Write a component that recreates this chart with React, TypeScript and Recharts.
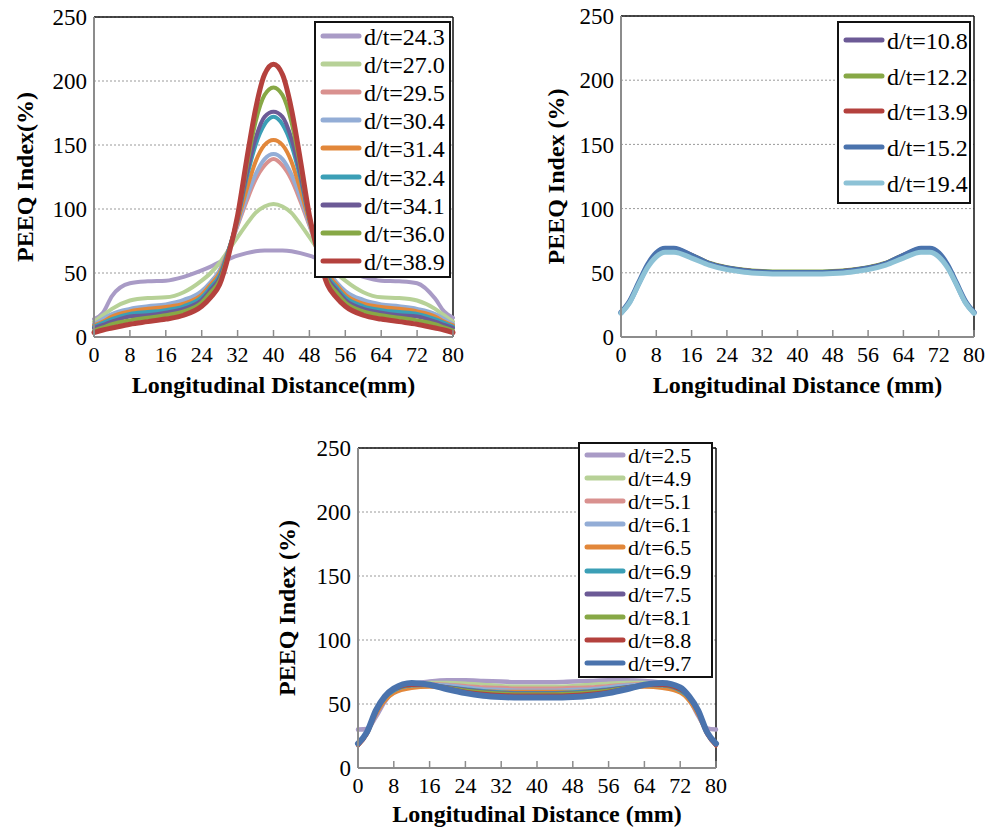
import React from 'react';
import { LineChart, Line, XAxis, YAxis, CartesianGrid, Legend, ReferenceLine } from 'recharts';

const SERIF = '"Liberation Serif", "Times New Roman", serif';

const xTicks = [0, 8, 16, 24, 32, 40, 48, 56, 64, 72, 80];
const yTicks = [0, 50, 100, 150, 200, 250];

// panel (a) – larger defects, sharp peak in the middle
const xA = [0, 2, 4, 8, 12, 16, 20, 24, 26, 28, 30, 32, 34, 36, 38, 40, 42, 44, 46, 48, 50, 52, 54, 56, 60, 64, 68, 72, 76, 78, 80];
const a243 = [14, 19, 32, 42, 43.5, 44, 47, 52, 55, 58.5, 61, 63.5, 65.5, 67, 67.5, 67.5, 67.5, 67, 65.5, 63.5, 61, 58.5, 55, 52, 47, 44, 43.5, 42, 30, 20, 15];
const a270 = [12, 17, 22, 28.5, 30.5, 31, 35, 44, 50, 58, 68, 78, 88, 97, 102, 104, 102, 97, 88, 78, 68, 58, 50, 44, 35, 31, 30.5, 28.5, 22, 17, 12];
const a295 = [10, 13, 17, 21, 23, 24.5, 28, 35, 42, 52, 68, 87, 106, 123, 134, 139, 134, 123, 106, 87, 68, 52, 42, 35, 28, 24.5, 23, 21, 17, 13, 10];
const a304 = [10, 14, 18, 22, 24, 25.5, 29, 36, 43, 52, 68, 88, 109, 127, 139, 143, 139, 127, 109, 88, 68, 52, 43, 36, 29, 25.5, 24, 22, 18, 14, 10];
const a314 = [9, 12, 16, 20, 22, 23.5, 26, 33, 41, 50, 68, 90, 115, 137, 150, 154, 150, 137, 115, 90, 68, 50, 41, 33, 26, 23.5, 22, 20, 16, 12, 9];
const a324 = [8, 11, 14, 18, 19.5, 21, 24, 31, 39, 48, 68, 92, 124, 150, 166, 172, 166, 150, 124, 92, 68, 48, 39, 31, 24, 21, 19.5, 18, 14, 11, 8];
const a341 = [7, 9.5, 12, 16, 17, 19, 22, 29, 37, 46, 67, 93, 127, 155, 172, 176, 172, 155, 127, 93, 67, 46, 37, 29, 22, 19, 17, 16, 12, 9.5, 7];
const a360 = [5, 7.5, 10, 13, 15, 17, 20, 27, 35, 44, 66, 94, 133, 168, 189, 195, 189, 168, 133, 94, 66, 44, 35, 27, 20, 17, 15, 13, 10, 7.5, 5];
const a389 = [3.5, 5.5, 7, 10, 12, 14, 17, 24, 31, 41, 64, 95, 138, 178, 205, 213, 205, 178, 138, 95, 64, 41, 31, 24, 17, 14, 12, 10, 7, 5.5, 3.5];

// panel (b)
const xB = [0, 2, 4, 6, 8, 10, 12, 16, 20, 24, 28, 32, 36, 40, 44, 48, 52, 56, 60, 64, 68, 70, 72, 74, 76, 78, 80];
const b108 = [19, 28, 42, 56, 65, 68.5, 68.5, 64, 58, 54.5, 52.5, 51.5, 51, 51, 51, 51.5, 52.5, 54.5, 58, 64, 68.5, 68.5, 65, 56, 42, 28, 19];
const b122 = [19, 28, 42, 56, 64.5, 68, 68, 64.5, 58.5, 55, 53, 52, 51.5, 51.5, 51.5, 52, 53, 55, 58.5, 64.5, 68, 68, 64.5, 56, 42, 28, 19];
const b139 = [19, 28, 42, 56, 65.5, 69.5, 69.5, 64.5, 58, 54.5, 52.5, 51.5, 51, 51, 51, 51.5, 52.5, 54.5, 58, 64.5, 69.5, 69.5, 65.5, 56, 42, 28, 19];
const b152 = [19, 28, 42, 56, 65.5, 69, 69, 63.5, 57, 53.5, 51.5, 50.5, 50, 50, 50, 50.5, 51.5, 53.5, 57, 63.5, 69, 69, 65.5, 56, 42, 28, 19];
const b194 = [18.5, 27, 41, 54, 62.5, 66, 66, 61.5, 56, 52.5, 50.5, 49.5, 49, 49, 49, 49.5, 50.5, 52.5, 56, 61.5, 66, 66, 62.5, 54, 41, 27, 18.5];

// panel (c)
const xC = [0, 2, 4, 6, 8, 12, 16, 20, 24, 28, 32, 36, 40, 44, 48, 52, 56, 60, 64, 68, 72, 74, 76, 78, 80];
const c25 = [30, 30.5, 40, 52, 60, 65.5, 67.5, 68.5, 68.5, 68, 67.5, 67, 67, 67, 67.5, 68, 68.5, 68.5, 68, 66.5, 61, 54, 41, 31, 30];
const c49 = [18, 27, 43, 54, 60, 65, 67, 67, 66.5, 65.5, 64.5, 64, 64, 64, 64.5, 65.5, 66.5, 67, 67, 65.5, 61, 55, 43, 27, 18];
const c51 = [18, 27, 43, 54, 60, 64.5, 66, 65.5, 64.5, 63.5, 63, 62.5, 62.5, 62.5, 63, 63.5, 64.5, 65.5, 66, 64.5, 60.5, 54, 43, 27, 18];
const c61 = [18, 27, 43, 54, 60, 64, 65.5, 65, 63.5, 62, 61.5, 61, 61, 61, 61.5, 62, 63.5, 65, 65.5, 64, 60, 54, 43, 27, 18];
const c65 = [17, 26, 41, 52, 58, 62, 63, 62.5, 61.5, 60.5, 60, 60, 60, 60, 60, 60.5, 61.5, 62.5, 63, 62, 58.5, 52, 41, 26, 17];
const c69 = [18, 27, 43, 54, 60, 64, 64.5, 63.5, 62, 60.5, 59.5, 59, 59, 59, 59.5, 60.5, 62, 63.5, 64.5, 64, 60, 54, 43, 27, 18];
const c75 = [18, 27, 43, 55, 61, 64.5, 65, 63.5, 61.5, 60, 59, 58.5, 58.5, 58.5, 59, 60, 61.5, 63.5, 65, 64.5, 61, 55, 43, 27, 18];
const c81 = [18, 27, 43, 55, 61, 64.5, 65, 63, 61, 59.5, 58.5, 58, 58, 58, 58.5, 59.5, 61, 63, 65, 64.5, 61, 55, 43, 27, 18];
const c88 = [17, 26, 43, 55, 61, 64.5, 64.5, 62.5, 60, 58.5, 57.5, 57, 57, 57, 57.5, 58.5, 60, 62.5, 64.5, 64.5, 61, 55, 43, 26, 17];
const c97 = [19, 28, 45, 56, 62, 66.5, 65, 61.5, 58.5, 56.5, 55.5, 55, 55, 55, 55.5, 56.5, 58.5, 61.5, 65, 66.5, 63, 56, 45, 28, 19];

const C = {
  lilac: '#A99BC6',
  lime: '#B7D197',
  rose: '#D9918F',
  steel: '#93ADD6',
  orange: '#E2873A',
  teal: '#3B9FB6',
  plum: '#6C5A96',
  olive: '#87A846',
  brick: '#B4413D',
  blue: '#4A73AD',
  sky: '#8DC2D6',
};

type Series = { key: string; name: string; color: string; width: number; values: number[] };

const seriesA: Series[] = [
  { key: 'a243', name: 'd/t=24.3', color: C.lilac, width: 4, values: a243 },
  { key: 'a270', name: 'd/t=27.0', color: C.lime, width: 4, values: a270 },
  { key: 'a295', name: 'd/t=29.5', color: C.rose, width: 4, values: a295 },
  { key: 'a304', name: 'd/t=30.4', color: C.steel, width: 4, values: a304 },
  { key: 'a314', name: 'd/t=31.4', color: C.orange, width: 4, values: a314 },
  { key: 'a324', name: 'd/t=32.4', color: C.teal, width: 4, values: a324 },
  { key: 'a341', name: 'd/t=34.1', color: C.plum, width: 4, values: a341 },
  { key: 'a360', name: 'd/t=36.0', color: C.olive, width: 4, values: a360 },
  { key: 'a389', name: 'd/t=38.9', color: C.brick, width: 5, values: a389 },
];

const seriesB: Series[] = [
  { key: 'b108', name: 'd/t=10.8', color: C.plum, width: 2.5, values: b108 },
  { key: 'b122', name: 'd/t=12.2', color: C.olive, width: 2.5, values: b122 },
  { key: 'b139', name: 'd/t=13.9', color: C.brick, width: 2.5, values: b139 },
  { key: 'b152', name: 'd/t=15.2', color: C.blue, width: 5.5, values: b152 },
  { key: 'b194', name: 'd/t=19.4', color: C.sky, width: 5, values: b194 },
];

const seriesC: Series[] = [
  { key: 'c25', name: 'd/t=2.5', color: C.lilac, width: 4.5, values: c25 },
  { key: 'c49', name: 'd/t=4.9', color: C.lime, width: 3, values: c49 },
  { key: 'c51', name: 'd/t=5.1', color: C.rose, width: 3, values: c51 },
  { key: 'c61', name: 'd/t=6.1', color: C.steel, width: 3, values: c61 },
  { key: 'c65', name: 'd/t=6.5', color: C.orange, width: 3, values: c65 },
  { key: 'c69', name: 'd/t=6.9', color: C.teal, width: 3, values: c69 },
  { key: 'c75', name: 'd/t=7.5', color: C.plum, width: 3, values: c75 },
  { key: 'c81', name: 'd/t=8.1', color: C.olive, width: 3, values: c81 },
  { key: 'c88', name: 'd/t=8.8', color: C.brick, width: 3, values: c88 },
  { key: 'c97', name: 'd/t=9.7', color: C.blue, width: 6, values: c97 },
];

const toRows = (xs: number[], series: Series[]) =>
  xs.map((x, i) => {
    const row: any = { x };
    series.forEach((s) => { row[s.key] = s.values[i]; });
    return row;
  });

const LegendBox = ({ series, width, rowHeight, fontSize }: { series: Series[]; width: number; rowHeight: number; fontSize: number }) => (
  <div style={{ border: '2px solid #111', background: '#fff', width, boxSizing: 'border-box', paddingLeft: 4, fontFamily: SERIF, fontSize, color: '#000' }}>
    {series.map((s) => (
      <div key={s.key} style={{ display: 'flex', alignItems: 'center', height: rowHeight, whiteSpace: 'nowrap' }}>
        <svg width={42} height={12} style={{ flexShrink: 0, marginRight: 2, marginTop: -2 }}>
          <line x1={3} y1={6} x2={39} y2={6} stroke={s.color} strokeWidth={5} strokeLinecap="round" />
        </svg>
        <span style={{ lineHeight: 1 }}>{s.name}</span>
      </div>
    ))}
  </div>
);

interface PanelProps {
  left: number; top: number; width: number; height: number;
  margin: { top: number; right: number; bottom: number; left: number };
  yAxisWidth: number; yTitleOffset: number; xTitleOffset: number;
  xs: number[]; series: Series[];
  xTitle: string; yTitle: string;
  legend: { left: number; top: number; width: number; rowHeight: number; fontSize: number };
}

const Panel = (p: PanelProps) => (
  <div style={{ position: 'absolute', left: p.left, top: p.top }}>
    <LineChart width={p.width} height={p.height} data={toRows(p.xs, p.series)} margin={p.margin}>
      <CartesianGrid vertical={false} stroke="#9a9a9a" strokeDasharray="2 2" />
      <XAxis
        type="number" dataKey="x" domain={[0, 80]} ticks={xTicks} interval={0}
        height={60} tickSize={-7} tickMargin={16}
        stroke="#8c8c8c" strokeWidth={2} tickLine={{ stroke: '#8c8c8c', strokeWidth: 1.5 }}
        tick={{ fill: '#000', fontSize: 22, fontFamily: SERIF }}
        label={{ value: p.xTitle, position: 'insideBottom', offset: p.xTitleOffset, style: { fontFamily: SERIF, fontWeight: 'bold', fontSize: 24, fill: '#000' } }}
      />
      <YAxis
        type="number" domain={[0, 250]} ticks={yTicks} interval={0} width={p.yAxisWidth}
        tickLine={false} tickSize={0} tickMargin={7}
        stroke="#8c8c8c" strokeWidth={2}
        tick={{ fill: '#000', fontSize: 23, fontFamily: SERIF }}
        label={{ value: p.yTitle, angle: -90, position: 'insideLeft', offset: p.yTitleOffset, style: { textAnchor: 'middle', fontFamily: SERIF, fontWeight: 'bold', fontSize: 24, fill: '#000' } }}
      />
      <ReferenceLine y={250} stroke="#111" strokeWidth={1.5} />
      <ReferenceLine x={80} stroke="#111" strokeWidth={1.5} />
      {p.series.map((s) => (
        <Line key={s.key} type="monotone" dataKey={s.key} name={s.name} stroke={s.color} strokeWidth={s.width}
          dot={false} activeDot={false} isAnimationActive={false} strokeLinecap="round" strokeLinejoin="round" />
      ))}
      <Legend
        layout="vertical" align="center" verticalAlign="middle"
        wrapperStyle={{ position: 'absolute', left: p.legend.left, top: p.legend.top, width: p.legend.width, margin: 0 }}
        content={() => <LegendBox series={p.series} width={p.legend.width} rowHeight={p.legend.rowHeight} fontSize={p.legend.fontSize} />}
      />
    </LineChart>
  </div>
);

export default function App() {
  return (
    <div style={{ position: 'absolute', left: 0, top: 0, width: 1000, height: 828, background: '#fff', overflow: 'hidden' }}>
      <Panel
        left={0} top={0} width={470} height={410}
        margin={{ top: 17, right: 17, bottom: 13, left: 0 }}
        yAxisWidth={94} yTitleOffset={24} xTitleOffset={4}
        xs={xA} series={seriesA}
        xTitle="Longitudinal Distance(mm)" yTitle="PEEQ Index(%)"
        legend={{ left: 314, top: 21, width: 137, rowHeight: 28.1, fontSize: 24 }}
      />
      <Panel
        left={530} top={0} width={460} height={410}
        margin={{ top: 16, right: 16, bottom: 13, left: 0 }}
        yAxisWidth={91} yTitleOffset={25} xTitleOffset={4}
        xs={xB} series={seriesB}
        xTitle="Longitudinal Distance (mm)" yTitle="PEEQ Index (%)"
        legend={{ left: 307, top: 21, width: 134, rowHeight: 35.8, fontSize: 24 }}
      />
      <Panel
        left={270} top={430} width={460} height={398}
        margin={{ top: 18, right: 14, bottom: 0, left: 0 }}
        yAxisWidth={88} yTitleOffset={16} xTitleOffset={6}
        xs={xC} series={seriesC}
        xTitle="Longitudinal Distance (mm)" yTitle="PEEQ Index (%)"
        legend={{ left: 308, top: 12, width: 135, rowHeight: 23.2, fontSize: 22 }}
      />
    </div>
  );
}
